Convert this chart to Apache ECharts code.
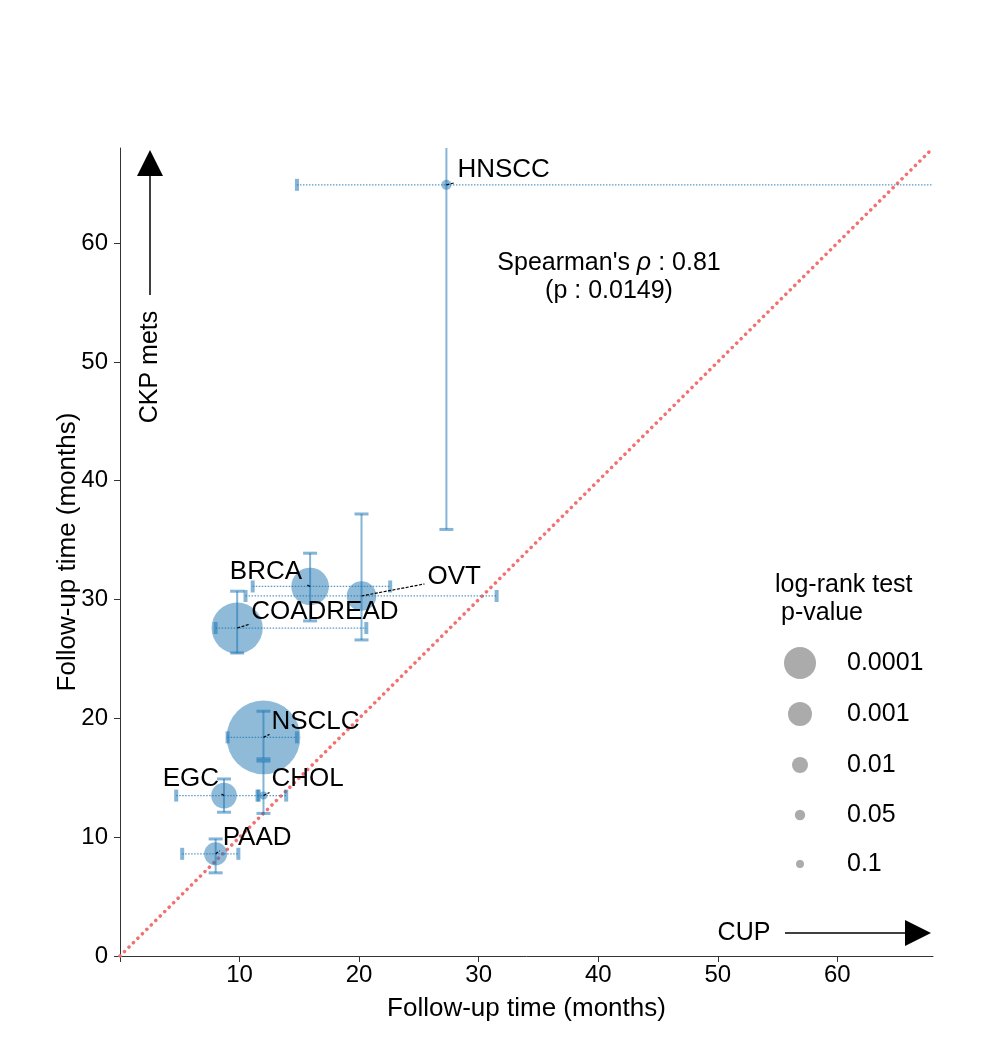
<!DOCTYPE html>
<html>
<head>
<meta charset="utf-8">
<script src="https://cdn.jsdelivr.net/npm/echarts@6/dist/echarts.min.js"></script>
<style>
html,body{margin:0;padding:0;background:#fff;}
#chart{width:999px;height:1046px;}
</style>
</head>
<body>
<div id="chart"></div>
<script>
// ---- data ----
const cancerNames = ['HNSCC', 'BRCA', 'OVT', 'COADREAD', 'NSCLC', 'EGC', 'CHOL', 'PAAD'];
const cupMonths   = [27.3, 15.9, 20.2, 9.8, 12.0, 8.7, 12.0, 8.0];
const ckpMonths   = [64.9, 31.1, 30.3, 27.6, 18.4, 13.5, 13.5, 8.6];
const cupLower    = [14.8, 11.1, 10.5, 8.0, 9.0, 4.7, 11.5, 5.2];
const cupUpper    = [80.0, 22.6, 31.5, 20.6, 14.8, 11.6, 13.9, 9.9];
const ckpLower    = [35.9, 28.2, 26.6, 25.5, 16.6, 12.1, 12.0, 7.0];
const ckpUpper    = [80.0, 33.9, 37.2, 30.7, 20.6, 14.9, 16.4, 9.85];
const logRankP    = [0.056, 2e-5, 2e-4, 4e-7, 6e-10, 6e-4, 0.1, 1.3e-3];
const legendP     = [0.0001, 0.001, 0.01, 0.05, 0.1];
const legendPLabels = ['0.0001', '0.001', '0.01', '0.05', '0.1'];
const yTicks      = [0, 10, 20, 30, 40, 50, 60];
const xTicks      = [0, 10, 20, 30, 40, 50, 60];
const xTickLabels = [10, 20, 30, 40, 50, 60];
const identityLine = [[0, 0], [68, 68]];
const spearmanRho = '0.81';
const spearmanP   = '0.0149';

// ---- styles ----
const FONT = "'Liberation Sans', Arial, Helvetica, sans-serif";
const BLUE_FILL = 'rgba(31,119,180,0.5)';
const ERR_COLOR = 'rgba(31,119,180,0.55)';
const radiusFromP = p => 4 * (-Math.log10(p));
// label placement: [dx, dy, align, leaderDx, leaderDy]
const labelPlacement = {
  HNSCC:    [11, -15, 'left', 8, -2],
  BRCA:     [-8, -15, 'right', -4, -2],
  OVT:      [66, -19, 'left', 63, -12],
  COADREAD: [14, -16, 'left', 13, -4],
  NSCLC:    [8, -16, 'left', 6, -3],
  EGC:      [-5, -17, 'right', -3, -2],
  CHOL:     [8, -17, 'left', 6, -3],
  PAAD:     [7, -16, 'left', 4, -3]
};

const chart = echarts.init(document.getElementById('chart'), null, {renderer: 'canvas'});

const points = cancerNames.map((n, i) => [cupMonths[i], ckpMonths[i], logRankP[i]]);
const errData = cancerNames.map((n, i) => [cupMonths[i], ckpMonths[i], cupLower[i], cupUpper[i], ckpLower[i], ckpUpper[i]]);
const labelData = cancerNames.map((n, i) => [cupMonths[i], ckpMonths[i], i]);

function renderErr(params, api) {
  const x = api.value(0), y = api.value(1);
  const xl = api.coord([api.value(2), y]);
  const xh = api.coord([api.value(3), y]);
  const yl = api.coord([x, api.value(4)]);
  const yh = api.coord([x, api.value(5)]);
  const children = [
    {type: 'line', shape: {x1: xl[0], y1: xl[1], x2: xh[0], y2: xh[1]},
     style: {stroke: 'rgba(31,119,180,0.75)', lineWidth: 1.3, lineDash: [1.5, 1.5]}},
    {type: 'line', shape: {x1: yl[0], y1: yl[1], x2: yh[0], y2: yh[1]},
     style: {stroke: ERR_COLOR, lineWidth: 2}},
    {type: 'rect', shape: {x: xl[0] - 2, y: xl[1] - 6, width: 4, height: 12}, style: {fill: ERR_COLOR}},
    {type: 'rect', shape: {x: xh[0] - 2, y: xh[1] - 6, width: 4, height: 12}, style: {fill: ERR_COLOR}},
    {type: 'rect', shape: {x: yl[0] - 7, y: yl[1] - 1.5, width: 14, height: 3}, style: {fill: ERR_COLOR}},
    {type: 'rect', shape: {x: yh[0] - 7, y: yh[1] - 1.5, width: 14, height: 3}, style: {fill: ERR_COLOR}}
  ];
  return {type: 'group', children};
}

function renderLabel(params, api) {
  const c = api.coord([api.value(0), api.value(1)]);
  const name = cancerNames[api.value(2)];
  const pl = labelPlacement[name];
  return {
    type: 'group',
    children: [
      {type: 'line', shape: {x1: c[0], y1: c[1], x2: c[0] + pl[3], y2: c[1] + pl[4]},
       style: {stroke: '#000', lineWidth: 1.2, lineDash: [3, 1.5]}},
      {type: 'text', x: c[0] + pl[0], y: c[1] + pl[1],
       style: {text: name, font: "26px " + FONT, fill: '#000', textAlign: pl[2], textVerticalAlign: 'middle'}}
    ]
  };
}

// legend graphics
const legendGraphics = [];
const legendY = [663, 714, 765, 815, 864];
legendP.forEach((p, i) => {
  legendGraphics.push({type: 'circle', shape: {cx: 800, cy: legendY[i], r: radiusFromP(p)}, style: {fill: '#ababab'}, z: 100});
  legendGraphics.push({type: 'text', x: 847, y: legendY[i], style: {text: legendPLabels[i], font: "25px " + FONT, fill: '#000', textVerticalAlign: 'middle'}, z: 100});
});

const option = {
  backgroundColor: '#fff',
  animation: false,
  grid: {left: 120, right: 66, top: 148, bottom: 90},
  xAxis: {
    type: 'value', min: 0, max: 68, interval: 10,
    name: 'Follow-up time (months)', nameLocation: 'middle', nameGap: 40,
    nameTextStyle: {fontSize: 26, color: '#000', fontFamily: FONT},
    axisLine: {show: true, lineStyle: {color: '#333', width: 1}},
    axisTick: {show: true, length: 6, lineStyle: {color: '#333'}, customValues: xTicks},
    axisLabel: {fontSize: 24, color: '#000', fontFamily: FONT, margin: 7, customValues: xTickLabels},
    splitLine: {show: false}
  },
  yAxis: {
    type: 'value', min: 0, max: 68, interval: 10,
    name: 'Follow-up time (months)', nameLocation: 'middle', nameGap: 39, nameMoveOverlap: false,
    nameTextStyle: {fontSize: 26, color: '#000', fontFamily: FONT},
    axisLine: {show: true, lineStyle: {color: '#333', width: 1}},
    axisTick: {show: true, length: 6, lineStyle: {color: '#333'}, customValues: yTicks},
    axisLabel: {fontSize: 24, color: '#000', fontFamily: FONT, margin: 12, customValues: yTicks},
    splitLine: {show: false}
  },
  series: [
    {
      type: 'line', data: identityLine, symbol: 'none', silent: true, z: 1,
      lineStyle: {color: '#f37070', width: 3.5, type: [0.1, 6.2], cap: 'round'}
    },
    {
      type: 'scatter', data: points, z: 2,
      symbolSize: v => 2 * radiusFromP(v[2]),
      itemStyle: {color: BLUE_FILL, opacity: 1}
    },
    {
      type: 'custom', data: errData, renderItem: renderErr, clip: true, z: 3,
      encode: {x: [0, 2, 3], y: [1, 4, 5]}
    },
    {
      type: 'custom', data: labelData, renderItem: renderLabel, clip: false, z: 4,
      encode: {x: 0, y: 1}
    }
  ],
  graphic: [
    // Spearman annotation
    {type: 'text', x: 609, y: 263, z: 100, style: {
      text: "Spearman's {i|ρ} : " + spearmanRho, textAlign: 'center', textVerticalAlign: 'middle',
      font: "25px " + FONT, fill: '#000',
      rich: {i: {fontStyle: 'italic', fontSize: 25, fontFamily: FONT}}
    }},
    {type: 'text', x: 609, y: 291, z: 100, style: {
      text: '(p : ' + spearmanP + ')', textAlign: 'center', textVerticalAlign: 'middle',
      font: "25px " + FONT, fill: '#000'
    }},
    // CKP mets arrow
    {type: 'line', shape: {x1: 150, y1: 295, x2: 150, y2: 174}, style: {stroke: '#000', lineWidth: 1.5}, z: 100},
    {type: 'polygon', shape: {points: [[150, 150], [137, 176], [163, 176]]}, style: {fill: '#000'}, z: 100},
    {type: 'text', x: 150, y: 367, rotation: Math.PI / 2, z: 100, style: {
      text: 'CKP mets', textAlign: 'center', textVerticalAlign: 'middle', font: "25px " + FONT, fill: '#000'
    }},
    // CUP arrow
    {type: 'text', x: 744, y: 933, z: 100, style: {
      text: 'CUP', textAlign: 'center', textVerticalAlign: 'middle', font: "25px " + FONT, fill: '#000'
    }},
    {type: 'line', shape: {x1: 785, y1: 933, x2: 906, y2: 933}, style: {stroke: '#000', lineWidth: 1.5}, z: 100},
    {type: 'polygon', shape: {points: [[931, 933], [905, 920], [905, 946]]}, style: {fill: '#000'}, z: 100},
    // legend title
    {type: 'text', x: 775, y: 585, z: 100, style: {
      text: 'log-rank test', textVerticalAlign: 'middle', font: "25px " + FONT, fill: '#000'
    }},
    {type: 'text', x: 781, y: 613, z: 100, style: {
      text: 'p-value', textVerticalAlign: 'middle', font: "25px " + FONT, fill: '#000'
    }}
  ].concat(legendGraphics)
};
chart.setOption(option);
</script>
</body>
</html>
